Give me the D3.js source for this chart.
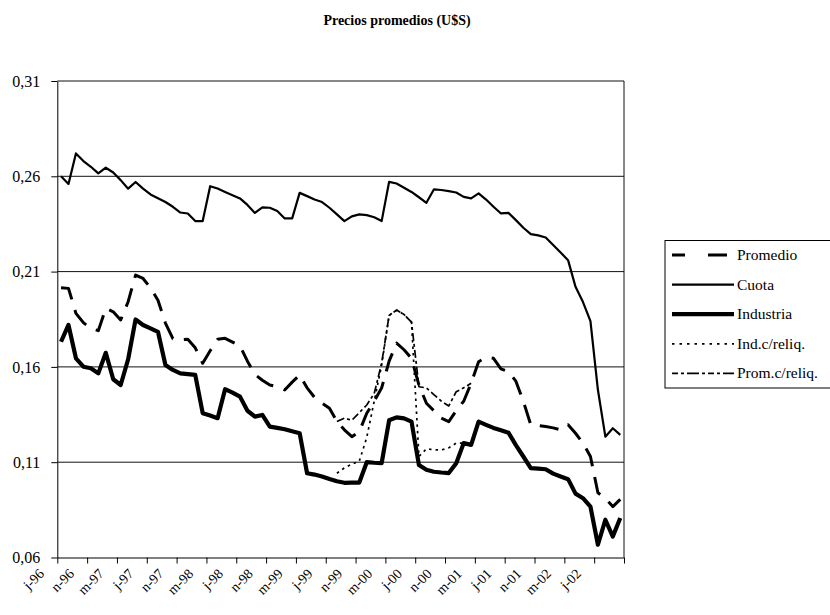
<!DOCTYPE html>
<html><head><meta charset="utf-8">
<script src="https://cdn.jsdelivr.net/npm/d3@7"></script>
<style>
body{margin:0;background:#fff}
svg{display:block}
</style>
</head><body>
<svg id="c" width="830" height="615"></svg>
<script>
const months = [
 "jul-96","ago-96","sep-96","oct-96","nov-96","dic-96",
 "ene-97","feb-97","mar-97","abr-97","may-97","jun-97","jul-97","ago-97","sep-97","oct-97","nov-97","dic-97",
 "ene-98","feb-98","mar-98","abr-98","may-98","jun-98","jul-98","ago-98","sep-98","oct-98","nov-98","dic-98",
 "ene-99","feb-99","mar-99","abr-99","may-99","jun-99","jul-99","ago-99","sep-99","oct-99","nov-99","dic-99",
 "ene-00","feb-00","mar-00","abr-00","may-00","jun-00","jul-00","ago-00","sep-00","oct-00","nov-00","dic-00",
 "ene-01","feb-01","mar-01","abr-01","may-01","jun-01","jul-01","ago-01","sep-01","oct-01","nov-01","dic-01",
 "ene-02","feb-02","mar-02","abr-02","may-02","jun-02","jul-02","ago-02","sep-02","oct-02"];

const tickLabels = ["j-96","n-96","m-97","j-97","n-97","m-98","j-98","n-98","m-99","j-99",
 "n-99","m-00","j-00","n-00","m-01","j-01","n-01","m-02","j-02"];

const yTicks = [0.06,0.11,0.16,0.21,0.26,0.31];

const promedio = [
 0.2015,0.2012,0.1881,0.1832,0.1802,0.1790,0.1907,0.1889,0.1846,0.1942,
 0.2082,0.2064,0.2015,0.1950,0.1830,0.1748,0.1742,0.1745,0.1700,0.1619,
 0.1685,0.1745,0.1750,0.1730,0.1710,0.1630,0.1560,0.1530,0.1505,0.1496,
 0.1479,0.1520,0.1558,0.1490,0.1440,0.1410,0.1383,0.1313,0.1270,0.1234,
 0.1260,0.1357,0.1420,0.1490,0.1630,0.1725,0.1690,0.1645,0.1505,0.1409,
 0.1370,0.1331,0.1313,0.1370,0.1420,0.1514,0.1627,0.1650,0.1645,0.1590,
 0.1575,0.1525,0.1420,0.1296,0.1292,0.1287,0.1280,0.1270,0.1296,0.1252,
 0.1200,0.1130,0.0940,0.0911,0.0867,0.0905];

const cuota = [
 0.2600,0.2560,0.2720,0.2680,0.2650,0.2615,0.2645,0.2620,0.2580,0.2535,
 0.2570,0.2535,0.2505,0.2485,0.2465,0.2440,0.2410,0.2405,0.2365,0.2365,
 0.2548,0.2536,0.2518,0.2501,0.2484,0.2450,0.2408,0.2437,0.2435,0.2418,
 0.2379,0.2379,0.2513,0.2496,0.2478,0.2465,0.2435,0.2400,0.2365,0.2390,
 0.2400,0.2396,0.2385,0.2365,0.2571,0.2562,0.2540,0.2518,0.2490,0.2461,
 0.2531,0.2528,0.2522,0.2515,0.2492,0.2484,0.2510,0.2478,0.2440,0.2405,
 0.2408,0.2370,0.2330,0.2297,0.2290,0.2279,0.2240,0.2200,0.2160,0.2020,
 0.1940,0.1840,0.1480,0.1234,0.1278,0.1243];

const industria = [
 0.1732,0.1820,0.1645,0.1601,0.1593,0.1566,0.1674,0.1535,0.1505,0.1640,
 0.1849,0.1820,0.1802,0.1784,0.1610,0.1584,0.1566,0.1562,0.1558,0.1357,
 0.1345,0.1331,0.1483,0.1465,0.1444,0.1370,0.1339,0.1348,0.1287,0.1280,
 0.1273,0.1262,0.1252,0.1042,0.1035,0.1025,0.1012,0.1000,0.0992,0.0993,
 0.0993,0.1100,0.1097,0.1095,0.1320,0.1335,0.1330,0.1313,0.1085,0.1060,
 0.1050,0.1046,0.1043,0.1095,0.1200,0.1191,0.1313,0.1296,0.1280,0.1268,
 0.1255,0.1190,0.1130,0.1069,0.1066,0.1063,0.1040,0.1025,0.1011,0.0935,
 0.0911,0.0867,0.0667,0.0798,0.0710,0.0807];

const indReliq = [
 null,null,null,null,null,null,null,null,null,null,
 null,null,null,null,null,null,null,null,null,null,
 null,null,null,null,null,null,null,null,null,null,
 null,null,null,null,null,null,null,0.1042,0.1070,0.1090,
 0.1105,0.1230,0.1420,0.1610,0.1870,0.1898,0.1875,0.1835,0.1130,0.1170,
 0.1165,0.1164,0.1175,0.1200,0.1200,null,null,null,null,null,
 null,null,null,null,null,null,null,null,null,null,
 null,null,null,null,null,null];

const promReliq = [
 null,null,null,null,null,null,null,null,null,null,
 null,null,null,null,null,null,null,null,null,null,
 null,null,null,null,null,null,null,null,null,null,
 null,null,null,null,null,null,null,0.1313,0.1331,0.1320,
 0.1360,0.1400,0.1460,0.1620,0.1870,0.1898,0.1875,0.1835,0.1496,0.1490,
 0.1455,0.1420,0.1395,0.1470,0.1490,0.1514,null,null,null,null,
 null,null,null,null,null,null,null,null,null,null,
 null,null,null,null,null,null];

const series = [
 {name:"Promedio", values:promedio, width:3, dash:"19,11", legendDash:"13,23,19"},
 {name:"Cuota", values:cuota, width:2.2, dash:null, legendDash:null},
 {name:"Industria", values:industria, width:4.2, dash:null, legendDash:null},
 {name:"Ind.c/reliq.", values:indReliq, width:1.7, dash:"2.5,4", legendDash:"2.5,5"},
 {name:"Prom.c/reliq.", values:promReliq, width:1.7, dash:"8,3,3,3", legendDash:"6,3,3,3,12,3,3,3"}
];

const FONT = "'Liberation Serif', 'Times New Roman', Times, 'DejaVu Serif', serif";
const W=830, H=615;
const pL=57.3, pR=624, pT=81, pB=557.5;
const svg = d3.select("#c");
svg.append("rect").attr("width",W).attr("height",H).attr("fill","#fff");

const x = d3.scalePoint().domain(months).range([pL,pR]).padding(0.5);
const xb = d3.scaleLinear().domain([0, months.length]).range([pL,pR]);
const y = d3.scaleLinear().domain([0.06,0.31]).range([pB,pT]);

// title
svg.append("text").attr("x",397).attr("y",25).attr("text-anchor","middle")
  .style("font-family",FONT).style("font-size","14px").style("font-weight","bold")
  .attr("fill","#000").text("Precios promedios (U$S)");

// gridlines
svg.append("g").selectAll("line").data(yTicks.filter(v=>v>0.06)).join("line")
  .attr("x1",pL).attr("x2",pR).attr("y1",d=>y(d)).attr("y2",d=>y(d))
  .attr("stroke","#111").attr("stroke-width",1);
// right border
svg.append("line").attr("x1",pR).attr("x2",pR).attr("y1",pT).attr("y2",pB)
  .attr("stroke","#111").attr("stroke-width",1);

// y axis
const ya = svg.append("g").attr("transform",`translate(${pL},0)`)
  .call(d3.axisLeft(y).tickValues(yTicks).tickSize(6).tickSizeOuter(0).tickPadding(11)
    .tickFormat(d=>d3.format(".2f")(d).replace(".",",")));
ya.selectAll("text").style("font-family",FONT).style("font-size","16px").attr("fill","#000");
ya.selectAll("line,path").attr("stroke","#000");

// x axis
const xa = svg.append("g").attr("transform",`translate(0,${pB})`)
  .call(d3.axisBottom(xb).tickValues(d3.range(0, months.length+1, 4)).tickSize(6).tickSizeOuter(0).tickFormat(""));
xa.selectAll("line,path").attr("stroke","#000");

svg.append("g").selectAll("text").data(tickLabels).join("text")
  .attr("transform",(d,k)=>`translate(${x(months[k*4])-16},${pB+17}) rotate(-45)`)
  .attr("text-anchor","end").style("font-family",FONT).style("font-size","14px")
  .attr("fill","#000").text(d=>d);

// lines
const line = d3.line().defined(d=>d!=null).x((d,i)=>x(months[i])).y(d=>y(d));
series.forEach(s=>{
  svg.append("path").datum(s.values).attr("d",line)
    .attr("fill","none").attr("stroke","#000").attr("stroke-width",s.width)
    .attr("stroke-linejoin","round")
    .attr("stroke-dasharray",s.dash);
});

// legend
const lg = svg.append("g");
lg.append("rect").attr("x",665).attr("y",240.5).attr("width",200).attr("height",147.5)
  .attr("fill","#fff").attr("stroke","#000").attr("stroke-width",1);
series.forEach((s,i)=>{
  const yy = 255 + i*29.6;
  lg.append("line").attr("x1",672).attr("x2",734).attr("y1",yy).attr("y2",yy)
    .attr("stroke","#000").attr("stroke-width",s.width).attr("stroke-dasharray",s.legendDash);
  lg.append("text").attr("x",737).attr("y",yy+5)
    .style("font-family",FONT).style("font-size","15.5px").attr("fill","#000").text(s.name);
});
</script>
</body></html>
